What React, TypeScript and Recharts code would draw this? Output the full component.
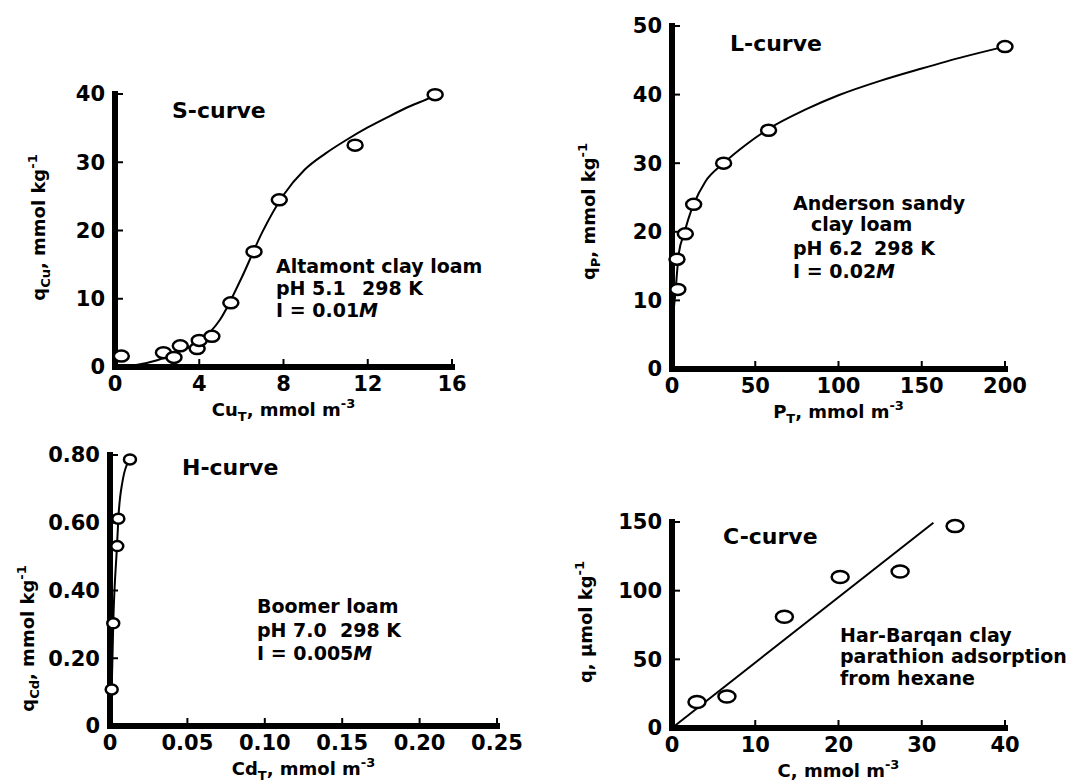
import { ComposedChart, Line, Scatter, XAxis, YAxis } from 'recharts';

const FONT = '"DejaVu Sans", "Liberation Sans", sans-serif';

// S-curve (Altamont clay loam, Cu)
const sCuT = [0.3, 2.3, 2.8, 3.1, 3.9, 4.0, 4.6, 5.5, 6.6, 7.8, 11.4, 15.2];
const sQCu = [1.6, 2.1, 1.4, 3.1, 2.7, 3.9, 4.5, 9.4, 16.9, 24.5, 32.5, 39.9];
const sFitX = [0, 1, 2, 3, 4, 5, 6, 7, 8, 9, 10, 11, 12, 13, 14, 15, 15.2];
const sFitY = [0, 0.3, 1.0, 2.2, 3.7, 7.0, 13.0, 19.8, 25.2, 28.9, 31.3, 33.3, 35.1, 36.7, 38.2, 39.5, 39.8];
const sXTicks = [0, 4, 8, 12, 16];
const sYTicks = [0, 10, 20, 30, 40];

// L-curve (Anderson sandy clay loam, P)
const lPT = [3.5, 3.0, 8, 13, 31, 58, 200];
const lQP = [11.6, 16, 19.7, 24, 30, 34.8, 47];
const lFitX = [0.2, 1, 2, 3, 4.2, 7, 10, 13, 20, 31, 45, 58, 80, 100, 125, 150, 175, 200];
const lFitY = [5, 8.5, 11, 14, 17, 19.5, 22, 24, 27.3, 30, 32.8, 35, 37.8, 39.9, 42, 43.8, 45.5, 47];
const lXTicks = [0, 50, 100, 150, 200];
const lYTicks = [0, 10, 20, 30, 40, 50];

// H-curve (Boomer loam, Cd)
const hCdT = [0.0011, 0.0021, 0.0047, 0.0054, 0.0129];
const hQCd = [0.108, 0.303, 0.531, 0.612, 0.787];
const hFitX = [0, 0.0011, 0.0021, 0.0045, 0.0055, 0.008, 0.0129];
const hFitY = [0, 0.108, 0.303, 0.53, 0.62, 0.72, 0.787];
const hXTicks = [0, 0.05, 0.1, 0.15, 0.2, 0.25];
const hYTicks = [0, 0.2, 0.4, 0.6, 0.8];

// C-curve (Har-Barqan clay, parathion)
const cC = [3.0, 6.6, 13.5, 20.2, 27.4, 34.0];
const cQ = [19, 23, 81, 110, 114, 147];
const cFitX = [0, 31.4];
const cFitY = [0, 149.5];
const cXTicks = [0, 10, 20, 30, 40];
const cYTicks = [0, 50, 100, 150];

const zip = (xs: number[], ys: number[]) => xs.map((x, i) => ({ x, y: ys[i] }));
const twoDec = (v: number) => (v === 0 ? '0' : v.toFixed(2));

const tickStyle = { fill: '#000', fontSize: 21, fontWeight: 700, fontFamily: FONT };

function XTitle({ vb, main, sub, rest, sup }: any) {
  return (
    <text x={vb.x + vb.width / 2} y={vb.y + 49} textAnchor="middle" fontFamily={FONT} fontWeight={700} fontSize={18} fill="#000">
      {main}
      {sub ? <tspan fontSize={13} dy={5}>{sub}</tspan> : null}
      <tspan dy={sub ? -5 : 0}>{rest}</tspan>
      <tspan fontSize={13} dy={-8}>{sup}</tspan>
    </text>
  );
}

function YTitle({ vb, dx, dy, main, sub, rest, sup }: any) {
  const cx = vb.x + vb.width + dx;
  const cy = vb.y + vb.height / 2 + dy;
  return (
    <text transform={`rotate(-90 ${cx} ${cy})`} x={cx} y={cy} textAnchor="middle" fontFamily={FONT} fontWeight={700} fontSize={18} fill="#000">
      {main}
      {sub ? <tspan fontSize={13} dy={5}>{sub}</tspan> : null}
      <tspan dy={sub ? -5 : 0}>{rest}</tspan>
      <tspan fontSize={13} dy={-8}>{sup}</tspan>
    </text>
  );
}

function Panel(p: any) {
  const ring = (s: any) => (
    <ellipse cx={s.cx} cy={s.cy} rx={p.rx} ry={p.ry} fill="#fff" stroke="#000" strokeWidth={2.5} />
  );
  const m = p.margin;
  return (
    <div style={{ position: 'absolute', left: p.left, top: p.top }}>
      <ComposedChart
        width={p.width}
        height={p.height}
        margin={{ top: m.top, right: m.right, bottom: m.bottom - 1, left: m.left - 1 }}
      >
        <XAxis
          type="number"
          dataKey="x"
          domain={p.xDomain}
          ticks={p.xTicks}
          interval={0}
          height={1}
          tickFormatter={p.xFmt}
          axisLine={{ stroke: '#000', strokeWidth: 6, strokeLinecap: 'square' }}
          tickLine={{ stroke: '#000', strokeWidth: 2 }}
          tickSize={-8}
          tickMargin={17}
          tick={tickStyle}
          label={(l: any) => <XTitle vb={l.viewBox} {...p.xTitle} />}
        />
        <YAxis
          type="number"
          dataKey="y"
          domain={p.yDomain}
          ticks={p.yTicks}
          interval={0}
          width={1}
          tickFormatter={p.yFmt}
          axisLine={{ stroke: '#000', strokeWidth: 6, strokeLinecap: 'square' }}
          tickLine={{ stroke: '#000', strokeWidth: 2 }}
          tickSize={-8}
          tickMargin={18}
          tick={tickStyle}
          label={(l: any) => <YTitle vb={l.viewBox} {...p.yTitle} />}
        />
        <Line
          data={p.fit}
          dataKey="y"
          type={p.fitType}
          stroke="#000"
          strokeWidth={2}
          dot={false}
          activeDot={false}
          isAnimationActive={false}
        />
        <Scatter data={p.points} dataKey="y" shape={ring} isAnimationActive={false} />
      </ComposedChart>
    </div>
  );
}

const textProps = { fontFamily: FONT, fontWeight: 700, fill: '#000' };

export default function App() {
  return (
    <div style={{ position: 'absolute', left: 0, top: 0, width: 1071, height: 782, background: '#fff', overflow: 'hidden' }}>
      <Panel
        left={0} top={50} width={490} height={380}
        margin={{ top: 44, right: 38, bottom: 63, left: 115 }}
        xDomain={[0, 16]} xTicks={sXTicks} yDomain={[0, 40]} yTicks={sYTicks}
        points={zip(sCuT, sQCu)} fit={zip(sFitX, sFitY)} fitType="monotone"
        rx={7.5} ry={5.5}
        xTitle={{ main: 'Cu', sub: 'T', rest: ', mmol m', sup: '-3' }}
        yTitle={{ dx: -70, dy: -3, main: 'q', sub: 'Cu', rest: ', mmol kg', sup: '-1' }}
      />
      <Panel
        left={560} top={0} width={511} height={430}
        margin={{ top: 26, right: 66, bottom: 61, left: 112 }}
        xDomain={[0, 200]} xTicks={lXTicks} yDomain={[0, 50]} yTicks={lYTicks}
        points={zip(lPT, lQP)} fit={zip(lFitX, lFitY)} fitType="monotone"
        rx={7.5} ry={5.5}
        xTitle={{ main: 'P', sub: 'T', rest: ', mmol m', sup: '-3' }}
        yTitle={{ dx: -77, dy: 14, main: 'q', sub: 'P', rest: ', mmol kg', sup: '-1' }}
      />
      <Panel
        left={0} top={430} width={560} height={352}
        margin={{ top: 25, right: 63, bottom: 56, left: 110 }}
        xDomain={[0, 0.25]} xTicks={hXTicks} yDomain={[0, 0.8]} yTicks={hYTicks}
        xFmt={twoDec} yFmt={twoDec}
        points={zip(hCdT, hQCd)} fit={zip(hFitX, hFitY)} fitType="monotone"
        rx={6} ry={5}
        xTitle={{ main: 'Cd', sub: 'T', rest: ', mmol m', sup: '-3' }}
        yTitle={{ dx: -76, dy: 48, main: 'q', sub: 'Cd', rest: ', mmol kg', sup: '-1' }}
      />
      <Panel
        left={560} top={480} width={511} height={302}
        margin={{ top: 42, right: 66, bottom: 54, left: 112 }}
        xDomain={[0, 40]} xTicks={cXTicks} yDomain={[0, 150]} yTicks={cYTicks}
        points={zip(cC, cQ)} fit={zip(cFitX, cFitY)} fitType="linear"
        rx={8.5} ry={6}
        xTitle={{ main: 'C', sub: '', rest: ', mmol m', sup: '-3' }}
        yTitle={{ dx: -80, dy: -3, main: 'q, \u03bcmol kg', sub: '', rest: '', sup: '-1' }}
      />

      <svg width={1071} height={782} style={{ position: 'absolute', left: 0, top: 0, pointerEvents: 'none' }}>
        <g {...textProps} fontSize={22}>
          <text x={172} y={118}>S-curve</text>
          <text x={730} y={51}>L-curve</text>
          <text x={182} y={475}>H-curve</text>
          <text x={723} y={544}>C-curve</text>
        </g>
        <g {...textProps} fontSize={19}>
          <text x={276} y={273}>Altamont clay loam</text>
          <text x={276} y={295}>pH 5.1<tspan x={362}>298 K</tspan></text>
          <text x={276} y={317}>I = 0.01<tspan fontStyle="italic">M</tspan></text>

          <text x={793} y={210}>Anderson sandy</text>
          <text x={811} y={231}>clay loam</text>
          <text x={793} y={255}>pH 6.2<tspan x={874}>298 K</tspan></text>
          <text x={793} y={278}>I = 0.02<tspan fontStyle="italic">M</tspan></text>

          <text x={257} y={613}>Boomer loam</text>
          <text x={257} y={637}>pH 7.0<tspan x={340}>298 K</tspan></text>
          <text x={257} y={660}>I = 0.005<tspan fontStyle="italic">M</tspan></text>

          <text x={840} y={642}>Har-Barqan clay</text>
          <text x={840} y={663}>parathion adsorption</text>
          <text x={840} y={685}>from hexane</text>
        </g>
      </svg>
    </div>
  );
}
